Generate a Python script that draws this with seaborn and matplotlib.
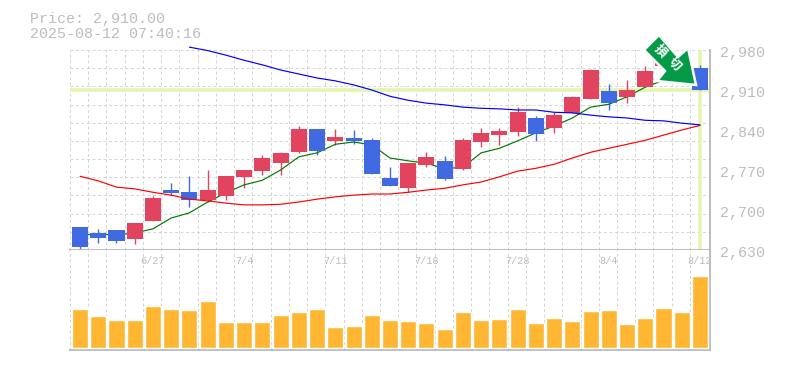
import numpy as np
import pandas as pd
import matplotlib
matplotlib.use("Agg")
import matplotlib.pyplot as plt
from matplotlib.patches import Polygon
from matplotlib.ticker import FixedLocator
import seaborn as sns

opens = [2670,2660,2665,2649,2681,2735,2731,2717,2724,2758,2768,2782,2801,2842,2821,2826,2822,2756,2738,2779,2786,2772,2819,2831,2836,2861,2843,2870,2894,2908,2898,2915,2952,2962,2948]
closes = [2635,2651,2646,2677,2721,2730,2717,2735,2759,2770,2791,2800,2842,2803,2828,2821,2763,2742,2782,2793,2754,2822,2835,2838,2871,2833,2866,2898,2945,2887,2910,2943,2971,2941,2910]
highs = [2670,2667,2665,2677,2724,2747,2759,2770,2759,2770,2796,2801,2847,2842,2842,2840,2826,2775,2782,2801,2794,2826,2843,2843,2880,2865,2871,2899,2947,2920,2928,2952,2975,2968,2954]
lows = [2629,2642,2642,2640,2681,2726,2705,2714,2717,2738,2761,2761,2800,2796,2814,2815,2763,2742,2731,2775,2752,2770,2810,2814,2829,2821,2835,2870,2894,2875,2887,2915,2950,2935,2910]
ma_short = [2656,2658,2656,2660,2667,2686,2695,2714,2730,2744,2752,2770,2793,2800,2815,2819,2814,2791,2786,2782,2772,2775,2800,2808,2821,2835,2847,2861,2880,2885,2898,2915,2927,2940,2945]
ma_mid = [np.nan]*6 + [2985,2979,2971,2962,2954,2945,2938,2931,2926,2919,2910,2899,2892,2887,2884,2880,2878,2877,2875,2875,2871,2870,2866,2863,2861,2857,2856,2852,2849]
ma_long = [2759,2751,2740,2737,2731,2726,2719,2716,2712,2709,2709,2710,2714,2719,2723,2726,2728,2728,2731,2735,2738,2744,2749,2758,2768,2773,2780,2791,2801,2808,2815,2822,2831,2840,2848]
volume = [38,31,27,27,41,38,37,46,25,25,25,32,35,38,21,22,32,27,26,24,19,35,27,28,38,24,29,26,36,37,23,29,39,35,71]
date_pos = [4,9,14,19,24,29,34]
date_labels = ["6/27","7/4","7/11","7/18","7/28","8/4","8/12"]
price_ticks = [2630,2700,2770,2840,2910,2980]
price_labels = ["2,630","2,700","2,770","2,840","2,910","2,980"]
current_price = 2910
title_lines = ["Price: 2,910.00","2025-08-12 07:40:16"]
badge_glyphs = ["損","切"]

UP="#e2435f"; DOWN="#4169e1"; GRID="#d6d6d6"; AXIS="#bdbdbd"; TXT="#bdbdbd"; HL="#e4f5b0"; VOL="#ffb733"
MONO="Liberation Mono"
PX=0.72

sns.set_theme(style="white")
W,H=785,370
fig=plt.figure(figsize=(W/100,H/100),dpi=100,facecolor="white")
def axes_px(l,t,r,b):
    return fig.add_axes([l/W,1-b/H,(r-l)/W,(b-t)/H])
ax=axes_px(70,50,710,250)
axv=axes_px(70,250,710,350)
xlim=(-0.55,34.55)
n=len(opens); idx=np.arange(n)
for a in (ax,axv):
    a.set_xlim(*xlim)
    a.set_facecolor("white")
    a.xaxis.set_major_locator(FixedLocator(list(idx-0.55)))
    a.grid(axis="x",color=GRID,lw=PX,ls=(0,(3,2.5)))
    a.set_axisbelow(True)
    for s in ("top","left"):
        a.spines[s].set_visible(False)
    for s in ("bottom","right"):
        a.spines[s].set_color(AXIS); a.spines[s].set_linewidth(1.4)
    a.tick_params(axis="both",length=0,labelbottom=False,labelleft=False)

ax.set_ylim(2630,2980)
ax.yaxis.set_major_locator(FixedLocator(list(np.linspace(2630,2980,12))))
ax.grid(axis="y",color=GRID,lw=PX,ls=(0,(3,2.5)))

ax.axhline(current_price,color=HL,lw=2.6,zorder=1.5)
ax.axvline(34,color=HL,lw=2.6,zorder=1.5)

o=np.array(opens);c=np.array(closes)
colors=[UP if cc>=oo else DOWN for oo,cc in zip(o,c)]
ax.vlines(idx,lows,highs,colors=colors,lw=1.0,zorder=2)
frame=pd.DataFrame({"i":idx,"short":ma_short,"mid":ma_mid,"long":ma_long})
sns.lineplot(data=frame,x="i",y="short",ax=ax,color="#007a00",lw=0.85,zorder=2.5,legend=False)
ax.bar(idx,np.abs(c-o),bottom=np.minimum(o,c),width=0.88,color=colors,lw=0,zorder=3)
sns.lineplot(data=frame,x="i",y="long",ax=ax,color="#ff0000",lw=0.85,zorder=3.5,legend=False)
sns.lineplot(data=frame.dropna(),x="i",y="mid",ax=ax,color="#0000ff",lw=0.85,zorder=3.5,legend=False)
ax.lines[-1].set_clip_on(False)
ax.set_xlabel("");ax.set_ylabel("")
ax.set_xlim(*xlim);ax.set_ylim(2630,2980)

sns.barplot(x=idx,y=volume,ax=axv,native_scale=True,color=VOL,saturation=1,width=0.88,zorder=3)
axv.set_xlim(*xlim);axv.set_ylim(-2,96)
axv.set_xlabel("");axv.set_ylabel("")
axv.tick_params(labelbottom=False,labelleft=False)

for p,lab in zip(price_ticks,price_labels):
    y=250-(p-2630)/350*200+3
    fig.text(720/W,1-y/H,lab,color=TXT,family=MONO,fontsize=10.8,va="center",ha="left")
for i,lab in zip(date_pos,date_labels):
    x=80+i*18.235
    fig.text(x/W,1-261.5/H,lab,color=TXT,family=MONO,fontsize=7.4,va="center",ha="center")
fig.text(30/W,1-18.5/H,title_lines[0],color=TXT,family=MONO,fontsize=10.8,va="center",ha="left")
fig.text(30/W,1-33.5/H,title_lines[1],color=TXT,family=MONO,fontsize=10.8,va="center",ha="left")

pts=[(659,35),(644,50),(665,71),(657,81),(696,85),(688,48),(678,57)]
fig_pts=[(x/W,1-y/H) for x,y in pts]
fig.add_artist(Polygon(fig_pts,closed=True,transform=fig.transFigure,facecolor="#039a48",edgecolor="white",lw=1.8,zorder=10))
for (gx,gy),g in zip([(660,51),(674,64)],badge_glyphs):
    fig.text(gx/W,1-gy/H,g,color="white",fontsize=9,weight="bold",rotation=-45,ha="center",va="center",
             family=["Noto Sans CJK JP","DejaVu Sans"],zorder=11)
fig.savefig("out.png",dpi=100)
